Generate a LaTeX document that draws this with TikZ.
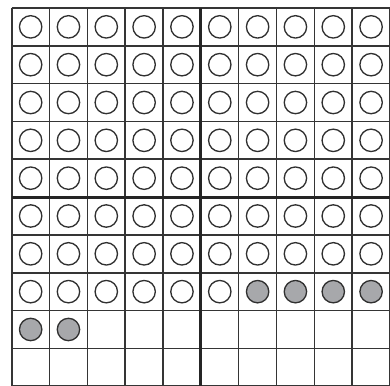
\documentclass[tikz,border=0pt]{standalone}
\usepackage{tikz}
\definecolor{gridline}{HTML}{353535}
\definecolor{dotgray}{HTML}{A7A8AB}
\begin{document}
\begin{tikzpicture}[
  ring/.style={line width=1pt, draw=gridline!90!black, fill=white},
  dot/.style={ring, fill=dotgray}]
  \useasboundingbox (-0.31,0.03) rectangle (10.0,10.21);
  \draw[line width=1.2pt, gridline] (0,0) grid (10,10);
  \draw[line width=2.3pt, gridline!70!black] (5,0) -- (5,10) (0,5) -- (10,5);
  % open counters, top seven rows
  \foreach \r in {0,...,6}
    \foreach \c in {0,...,9}
      \draw[ring] (\c+0.5,9.5-\r) circle (0.296);
  % eighth row
  \foreach \c in {0,...,5}
    \draw[ring] (\c+0.5,2.5) circle (0.296);
  \foreach \c in {6,...,9}
    \draw[dot] (\c+0.5,2.5) circle (0.296);
  % ninth row
  \foreach \c in {0,1}
    \draw[dot] (\c+0.5,1.5) circle (0.296);
\end{tikzpicture}
\end{document}
